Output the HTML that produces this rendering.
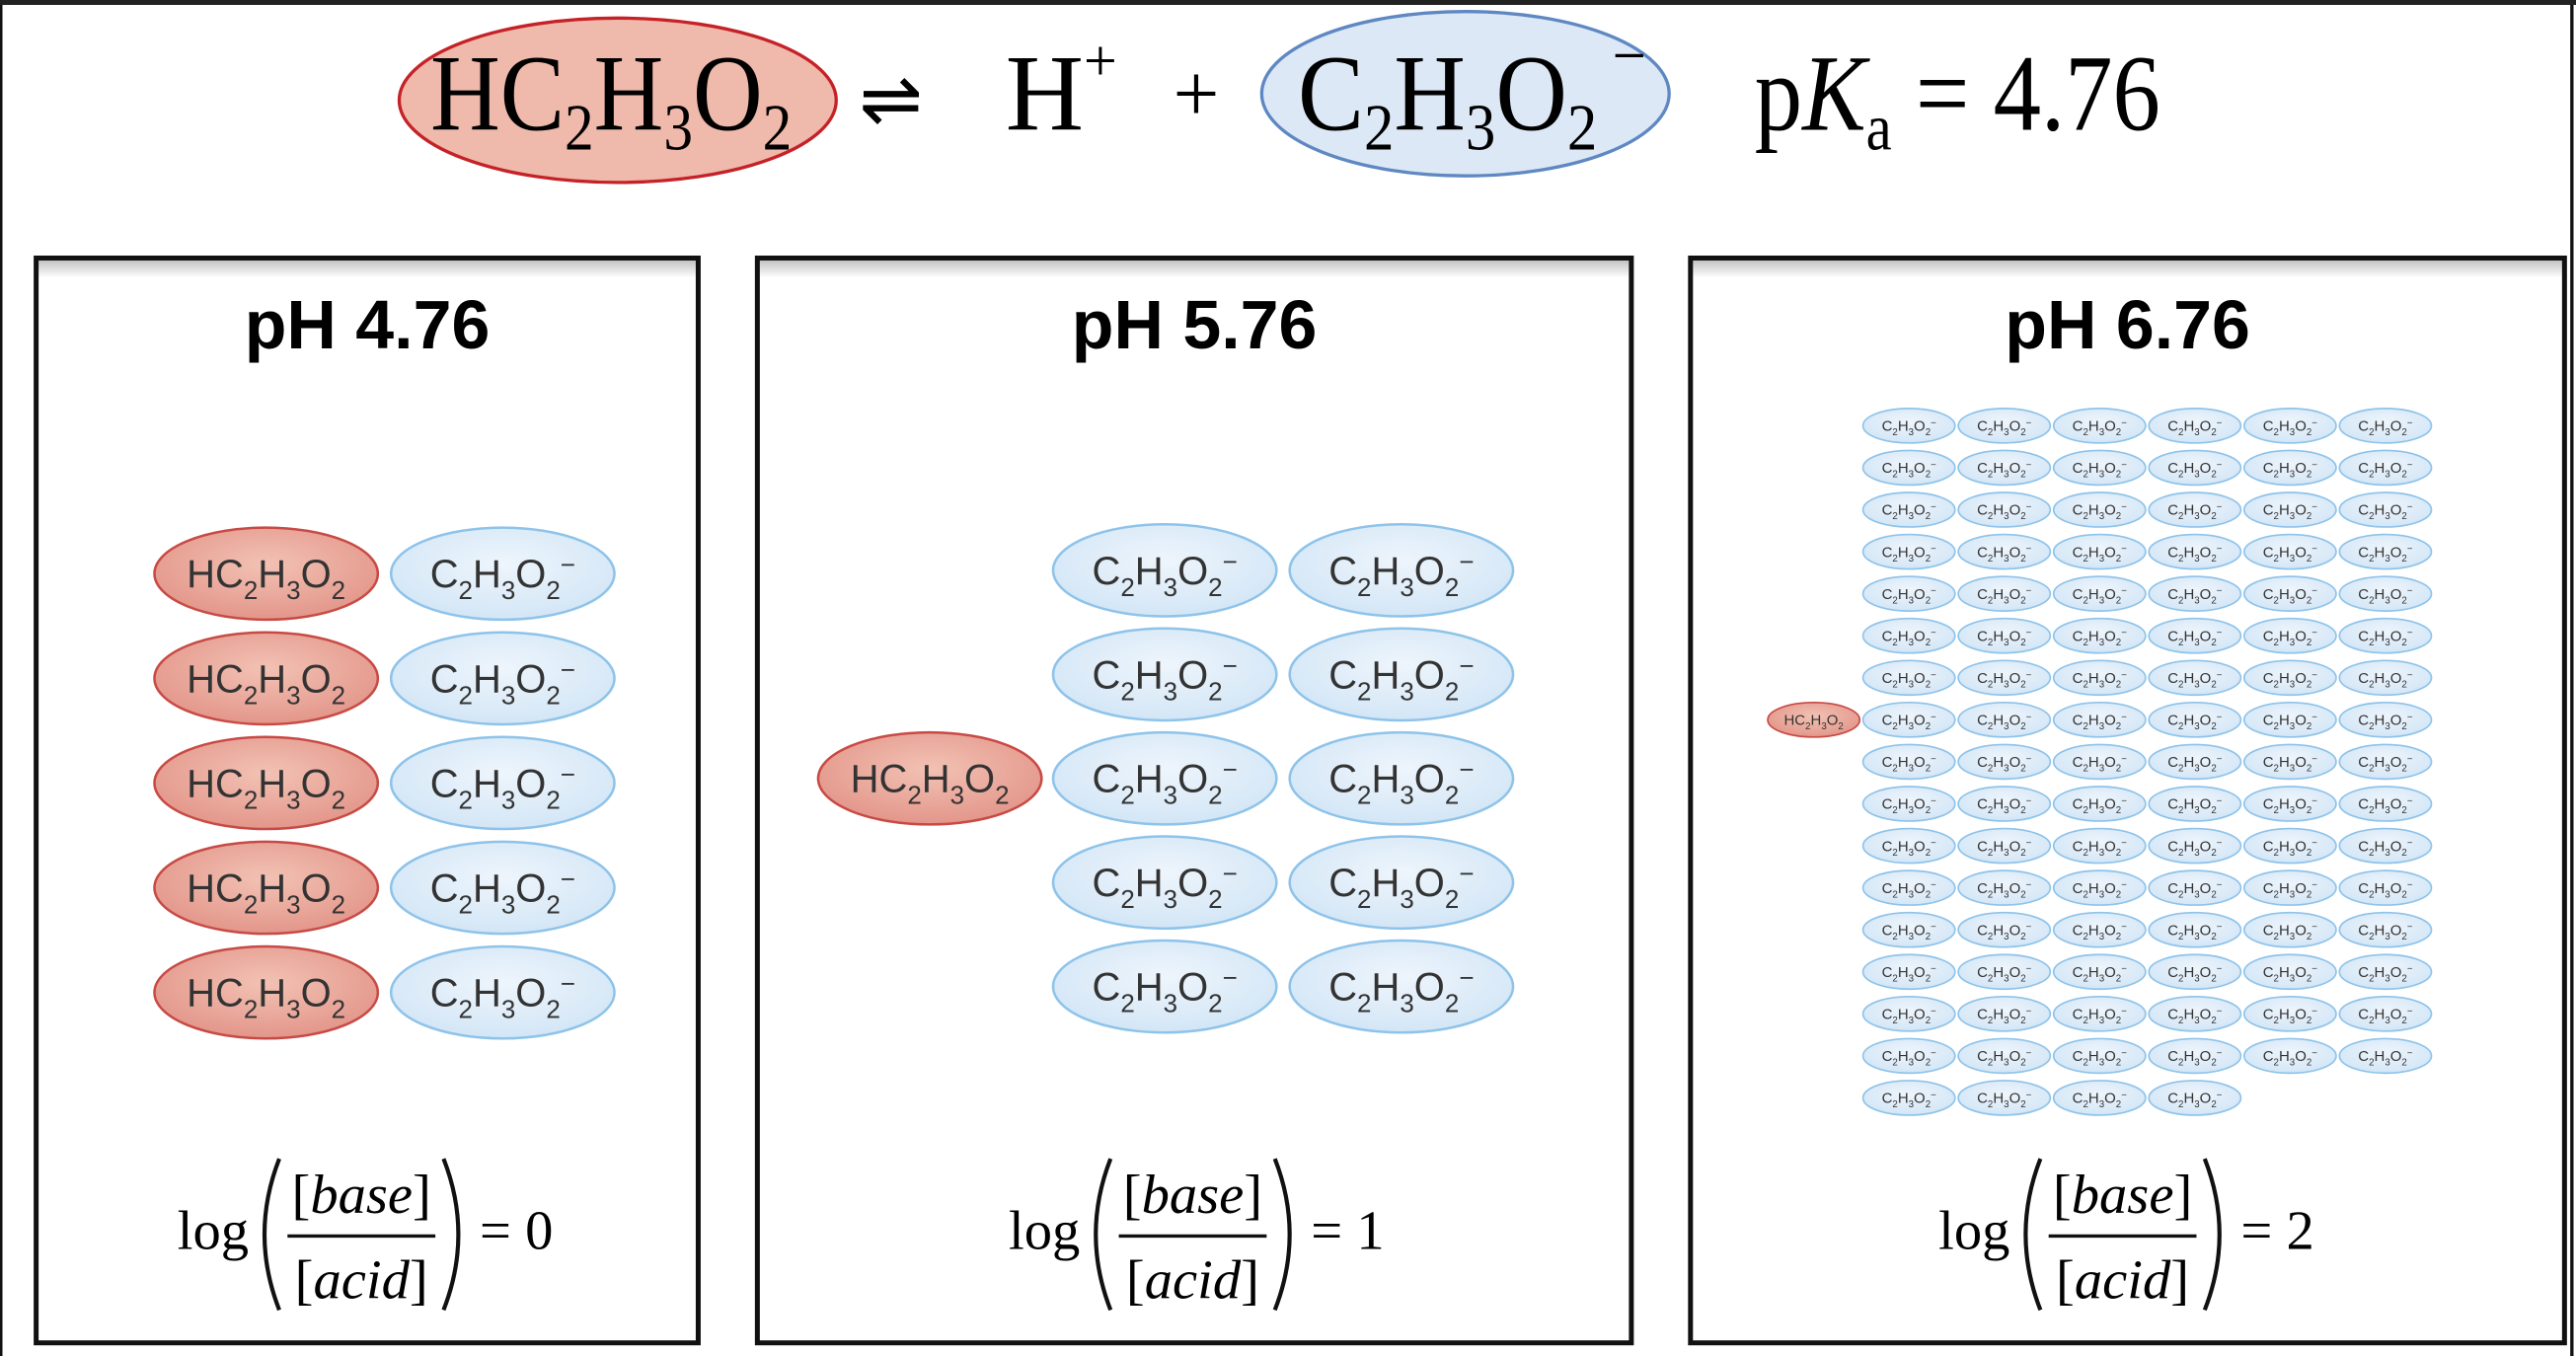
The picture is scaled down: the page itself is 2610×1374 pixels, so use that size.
<!DOCTYPE html>
<html><head><meta charset="utf-8"><style>
html,body{margin:0;padding:0;background:#fff;overflow:hidden}
svg{display:block}
</style></head><body>
<svg id="root" xmlns="http://www.w3.org/2000/svg" width="2610" height="1374" viewBox="0 0 1568 825" preserveAspectRatio="none">
<defs>
<radialGradient id="gRed" cx="50%" cy="40%" r="60%"><stop offset="0" stop-color="#f2c2b4"/><stop offset="1" stop-color="#e3968a"/></radialGradient>
<radialGradient id="gBlue" cx="50%" cy="40%" r="60%"><stop offset="0" stop-color="#eef5fc"/><stop offset="1" stop-color="#d3e6f6"/></radialGradient>
<linearGradient id="gTop" x1="0" y1="0" x2="0" y2="1"><stop offset="0" stop-color="#bbb"/><stop offset="1" stop-color="#fff"/></linearGradient>
</defs>
<rect x="0" y="0" width="1568" height="825" fill="#fff"/>
<rect x="0.5" y="1" width="1565" height="830" fill="none" stroke="#111" stroke-width="2"/>
<rect x="0" y="0" width="1568" height="3" fill="#222"/>
<g id="eq">
<ellipse cx="376" cy="61" rx="133" ry="50" fill="#efb9ab" stroke="#c52228" stroke-width="2"/>
<ellipse cx="892" cy="57" rx="124" ry="50" fill="#dce8f5" stroke="#5f88c2" stroke-width="2"/>
<text x="262" y="79" font-family="Liberation Serif, serif" font-size="66" textLength="220" lengthAdjust="spacingAndGlyphs">HC<tspan font-size="40" dy="12">2</tspan><tspan dy="-12">H</tspan><tspan font-size="40" dy="12">3</tspan><tspan dy="-12">O</tspan><tspan font-size="40" dy="12">2</tspan></text>
<text x="523" y="76" font-family="DejaVu Sans, sans-serif" font-size="46">⇌</text>
<text x="612" y="79" font-family="Liberation Serif, serif" font-size="66">H<tspan font-size="36" dy="-30">+</tspan></text>
<text x="714" y="74" font-family="Liberation Serif, serif" font-size="50">+</text>
<text x="790" y="79" font-family="Liberation Serif, serif" font-size="66" textLength="212" lengthAdjust="spacingAndGlyphs">C<tspan font-size="40" dy="12">2</tspan><tspan dy="-12">H</tspan><tspan font-size="40" dy="12">3</tspan><tspan dy="-12">O</tspan><tspan font-size="40" dy="12">2</tspan><tspan font-size="40" dy="-44"> −</tspan></text>
<text x="1068" y="79" font-family="Liberation Serif, serif" font-size="66" textLength="247" lengthAdjust="spacingAndGlyphs">p<tspan font-style="italic">K</tspan><tspan font-size="40" dy="12">a</tspan><tspan dy="-12"> = 4.76</tspan></text>
</g>
<g id="panels"></g>
</svg>
<script>
// data
const panelTitles = ["pH 4.76", "pH 5.76", "pH 6.76"];
const acidCounts = [5, 1, 1];
const baseCounts = [5, 10, 100];
const logRatioValues = ["0", "1", "2"];

const NS = "http://www.w3.org/2000/svg";
const panelsG = document.getElementById("panels");
const boxes = [{x:22,w:403},{x:461,w:532},{x:1029,w:532}];
function mk(tag, attrs, parent){const e=document.createElementNS(NS,tag);for(const k in attrs)e.setAttribute(k,attrs[k]);parent.appendChild(e);return e;}
function formula(parent, cx, cy, fs, isAcid){
  const t = mk("text",{x:cx,y:cy+fs*0.35,"text-anchor":"middle","font-family":"Liberation Sans, sans-serif","font-size":fs,fill:"#333"},parent);
  const parts = isAcid ? [["HC",0],["2",1],["H",0],["3",1],["O",0],["2",1]] : [["C",0],["2",1],["H",0],["3",1],["O",0],["2",1],["−",2]];
  let cur=0;
  parts.forEach(p=>{const s=document.createElementNS(NS,"tspan");const target=p[1]===1?fs*0.3:p[1]===2?-fs*0.35:0;s.setAttribute("dy",target-cur);cur=target;if(p[1])s.setAttribute("font-size",fs*0.65);s.textContent=p[0];t.appendChild(s);});
  return t;
}
function ion(parent, cx, cy, rx, ry, fs, isAcid){
  const g = mk("g",{},parent);
  
  
  mk("ellipse",{cx:cx,cy:cy,rx:rx,ry:ry,fill:isAcid?"url(#gRed)":"url(#gBlue)",stroke:isAcid?"#c84a45":"#8ec3ea","stroke-width":rx>40?1.5:1},g);
  formula(g,cx,cy,fs,isAcid);
}
boxes.forEach((b,i)=>{
  const g = mk("g",{},panelsG);
  
  
  mk("rect",{x:b.x,y:157,width:b.w,height:12,fill:"url(#gTop)"},g);
  mk("rect",{x:b.x,y:157,width:b.w,height:660,fill:"none",stroke:"#111","stroke-width":3},g);
  const t = mk("text",{x:b.x+b.w/2,y:212,"text-anchor":"middle","font-family":"Liberation Sans, sans-serif","font-weight":"bold","font-size":42},g);
  
  
  t.textContent = panelTitles[i];
});
function bigPanel(i, acidX, baseX0, rows0, rowStep){
  const nB = baseCounts[i], cols = nB>5?2:1, rows = Math.ceil(nB/cols);
  for(let k=0;k<nB;k++){const r=k%rows,c=Math.floor(k/rows);ion(panelsG, baseX0+c*144, rows0+r*rowStep, 68, 28, 24, false);}
  const nA = acidCounts[i];
  const startR = (rows - nA)/2;
  for(let k=0;k<nA;k++) ion(panelsG, acidX, rows0+(startR+k)*rowStep, 68, 28, 24, true);
}
bigPanel(0, 162, 306, 349, 63.7);
bigPanel(1, 566, 709, 347, 63.3);
(function(){
  const cols=6, x0=1162, dx=58, y0=259, dy=25.56;
  for(let k=0;k<baseCounts[2];k++){const r=Math.floor(k/cols),c=k%cols;ion(panelsG,x0+c*dx,y0+r*dy,28,10.5,9,false);}
  const fullRows=Math.floor(baseCounts[2]/cols);
  for(let k=0;k<acidCounts[2];k++) ion(panelsG,1104,y0+Math.floor((fullRows-1)/2)*dy+k*dy,28,10.5,9,true);
})();
const logX=[108,614,1180];
logX.forEach((lx,i)=>{
  const g = mk("g",{"font-family":"Liberation Serif, serif","font-size":34},panelsG);
  
  
  mk("text",{x:lx,y:760},g).textContent="log";
  mk("path",{d:`M${lx+62} 705 Q${lx+44} 751 ${lx+62} 797`,fill:"none",stroke:"#111","stroke-width":2.5},g);
  const n=mk("text",{x:lx+112,y:738,"text-anchor":"middle"},g); n.innerHTML='[<tspan font-style="italic">base</tspan>]';
  mk("line",{x1:lx+67,x2:lx+157,y1:752,y2:752,stroke:"#111","stroke-width":2},g);
  const d=mk("text",{x:lx+112,y:790,"text-anchor":"middle"},g); d.innerHTML='[<tspan font-style="italic">acid</tspan>]';
  mk("path",{d:`M${lx+162} 705 Q${lx+180} 751 ${lx+162} 797`,fill:"none",stroke:"#111","stroke-width":2.5},g);
  mk("text",{x:lx+184,y:760},g).textContent="= "+logRatioValues[i];
});
</script>
</body></html>
